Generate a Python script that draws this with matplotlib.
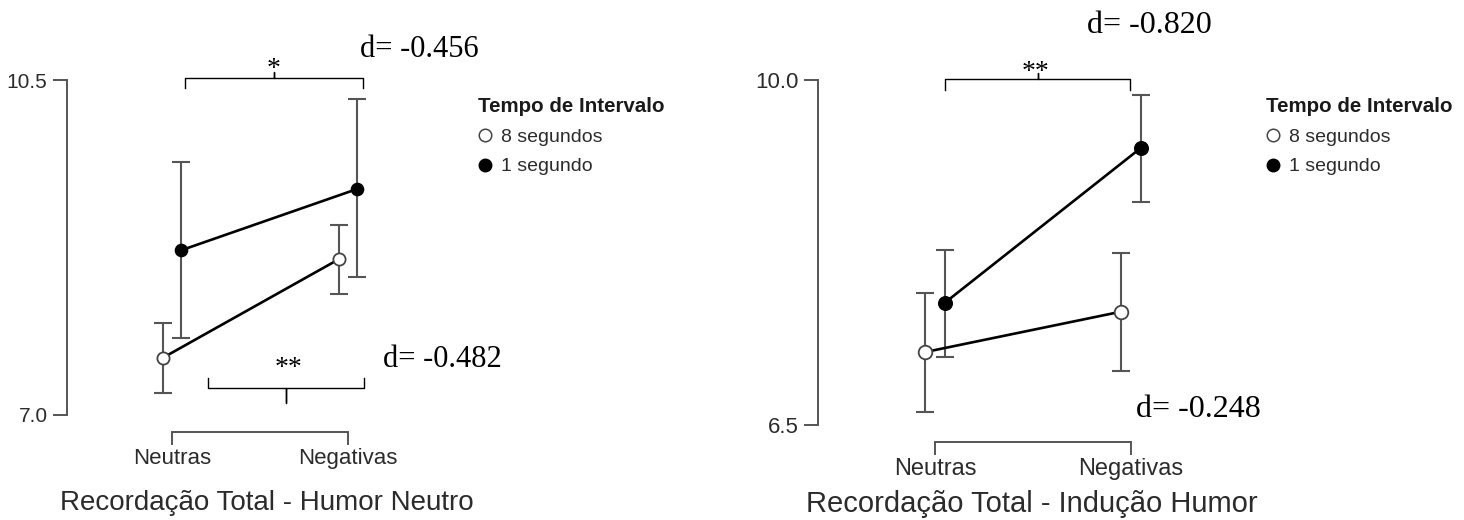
import matplotlib
matplotlib.use("Agg")
import matplotlib.pyplot as plt
import matplotlib.transforms as mtransforms
from matplotlib.lines import Line2D
import numpy as np

# ---------------- data ----------------
categories = ["Neutras", "Negativas"]
series_labels = ["8 segundos", "1 segundo"]
legend_title = "Tempo de Intervalo"

# Panel 1: Recordação Total - Humor Neutro
p1_title = "Recordação Total - Humor Neutro"
p1_yticks = [7.0, 10.5]
p1_8s_mean = [7.60, 8.63]
p1_8s_low = [7.23, 8.26]
p1_8s_high = [7.96, 8.99]
p1_1s_mean = [8.72, 9.36]
p1_1s_low = [7.80, 8.44]
p1_1s_high = [9.64, 10.30]
p1_d_labels = ["d= -0.456", "d= -0.482"]
p1_stars = ["*", "**"]

# Panel 2: Recordação Total - Indução Humor
p2_title = "Recordação Total - Indução Humor"
p2_yticks = [6.5, 10.0]
p2_8s_mean = [7.24, 7.65]
p2_8s_low = [6.63, 7.05]
p2_8s_high = [7.84, 8.24]
p2_1s_mean = [7.74, 9.31]
p2_1s_low = [7.19, 8.76]
p2_1s_high = [8.28, 9.85]
p2_d_labels = ["d= -0.820", "d= -0.248"]
p2_stars = ["**"]

# ---------------- layout ----------------
W, H, DPI = 1464, 520, 100
fig = plt.figure(figsize=(W / DPI, H / DPI), dpi=DPI)
fig.patch.set_facecolor("white")

# pixel transform (origin top-left, like the reference image)
px = mtransforms.Affine2D().scale(1.0 / W, -1.0 / H).translate(0, 1) + fig.transFigure

SANS = "Liberation Sans"
SERIF = "Liberation Serif"
AXCOL = "#555555"
TXTCOL = "#2b2b2b"
DODGE = 0.05


def rect(x0, ytop, x1, ybot):
    return [x0 / W, 1 - ybot / H, (x1 - x0) / W, (ybot - ytop) / H]


def draw_panel(ax, m8, l8, h8, m1, l1, h1, yticks, xlim, tick_fs, cat_fs,
               title, title_fs, title_xy, ms, bottom_off):
    x = np.arange(len(categories))
    m8, l8, h8 = map(np.asarray, (m8, l8, h8))
    m1, l1, h1 = map(np.asarray, (m1, l1, h1))
    for xx, m, lo, hi in ((x - DODGE, m8, l8, h8), (x + DODGE, m1, l1, h1)):
        ax.errorbar(xx, m, yerr=[m - lo, hi - m], fmt="none", ecolor=AXCOL,
                    elinewidth=1.5, capsize=6.5, capthick=1.5, zorder=2,
                    clip_on=False)
    ax.plot(x - DODGE, m8, color="black", lw=1.9, marker="o", ms=ms,
            mfc="white", mec="#444444", mew=1.3, zorder=4, clip_on=False)
    ax.plot(x + DODGE, m1, color="black", lw=1.9, marker="o", ms=ms,
            mfc="black", mec="black", mew=1.0, zorder=4, clip_on=False)

    ax.set_ylim(yticks[0], yticks[-1])
    ax.set_xlim(*xlim)
    ax.set_yticks(yticks)
    ax.set_yticklabels([f"{v:.1f}" for v in yticks])
    ax.set_xticks(x)
    ax.set_xticklabels(categories)
    for s in ("top", "right"):
        ax.spines[s].set_visible(False)
    ax.spines["left"].set_bounds(yticks[0], yticks[-1])
    ax.spines["bottom"].set_bounds(0, len(categories) - 1)
    ax.spines["bottom"].set_position(("outward", bottom_off))
    for s in ("left", "bottom"):
        ax.spines[s].set_color(AXCOL)
        ax.spines[s].set_linewidth(1.4)
    ax.tick_params(axis="y", length=10, width=1.4, color=AXCOL, pad=4,
                   labelsize=tick_fs, labelcolor=TXTCOL, labelfontfamily=SANS)
    ax.tick_params(axis="x", length=9.4, width=1.4, color=AXCOL, pad=2,
                   labelsize=cat_fs, labelcolor=TXTCOL, labelfontfamily=SANS)
    ax.set_facecolor("none")
    ax.set_xlabel(title, fontfamily=SANS, fontsize=title_fs, color=TXTCOL,
                  va="baseline")
    ax.xaxis.set_label_coords(title_xy[0], title_xy[1], transform=px)


def brace(x0, x1, yh, yleg, xc, ytip):
    d = 6
    xs = [x0, x0, xc - d, xc, xc, xc, xc + d, x1, x1]
    ys = [yleg, yh, yh, yh, ytip, yh, yh, yh, yleg]
    fig.add_artist(Line2D(xs, ys, transform=px, color="black", lw=1.0,
                          solid_joinstyle="round"))


def legend(ax, x, y):
    handles = [
        Line2D([], [], ls="none", marker="o", ms=9, mfc="white",
               mec="#444444", mew=1.1),
        Line2D([], [], ls="none", marker="o", ms=9, mfc="black",
               mec="black"),
    ]
    leg = ax.legend(handles, series_labels, title=legend_title,
                    loc="upper left", bbox_to_anchor=(x, y),
                    bbox_transform=px, frameon=False, borderpad=0,
                    borderaxespad=0, handlelength=0.7, handletextpad=0.5,
                    labelspacing=0.62, alignment="left",
                    prop={"family": SANS, "size": 14},
                    title_fontproperties={"family": SANS, "size": 14.8,
                                          "weight": "bold"})
    for t in leg.get_texts():
        t.set_color(TXTCOL)
    leg.get_title().set_color("#1a1a1a")


# ---------------- panel 1 ----------------
ax1 = fig.add_axes(rect(67, 80, 467, 415))
draw_panel(ax1, p1_8s_mean, p1_8s_low, p1_8s_high, p1_1s_mean, p1_1s_low,
           p1_1s_high, p1_yticks, (-0.597, 1.676), 15, 16, p1_title, 20,
           (267, 510), 8.8, 12.2)
legend(ax1, 478, 97)

brace(185, 363, 78, 88, 274, 72)
fig.text(274, 76, p1_stars[0], transform=px, fontfamily=SERIF, fontsize=20,
         ha="center", va="baseline")
brace(208, 364, 388, 378, 286, 403)
fig.text(289, 375, p1_stars[1], transform=px, fontfamily=SERIF, fontsize=20,
         ha="center", va="baseline")
fig.text(360, 57, p1_d_labels[0], transform=px, fontfamily=SERIF,
         fontsize=22, ha="left", va="baseline")
fig.text(383, 367, p1_d_labels[1], transform=px, fontfamily=SERIF,
         fontsize=22, ha="left", va="baseline")

# ---------------- panel 2 ----------------
ax2 = fig.add_axes(rect(818, 80, 1246, 425))
draw_panel(ax2, p2_8s_mean, p2_8s_low, p2_8s_high, p2_1s_mean, p2_1s_low,
           p2_1s_high, p2_yticks, (-0.597, 1.587), 16, 17, p2_title, 21,
           (1032, 512), 9.8, 12.2)
legend(ax2, 1266, 97)

brace(945, 1130, 79, 90, 1038, 73)
fig.text(1036, 79, p2_stars[0], transform=px, fontfamily=SERIF, fontsize=20,
         ha="center", va="baseline")
fig.text(1087, 33, p2_d_labels[0], transform=px, fontfamily=SERIF,
         fontsize=23, ha="left", va="baseline")
fig.text(1136, 417, p2_d_labels[1], transform=px, fontfamily=SERIF,
         fontsize=23, ha="left", va="baseline")

fig.savefig("out.png", dpi=DPI, facecolor="white")
